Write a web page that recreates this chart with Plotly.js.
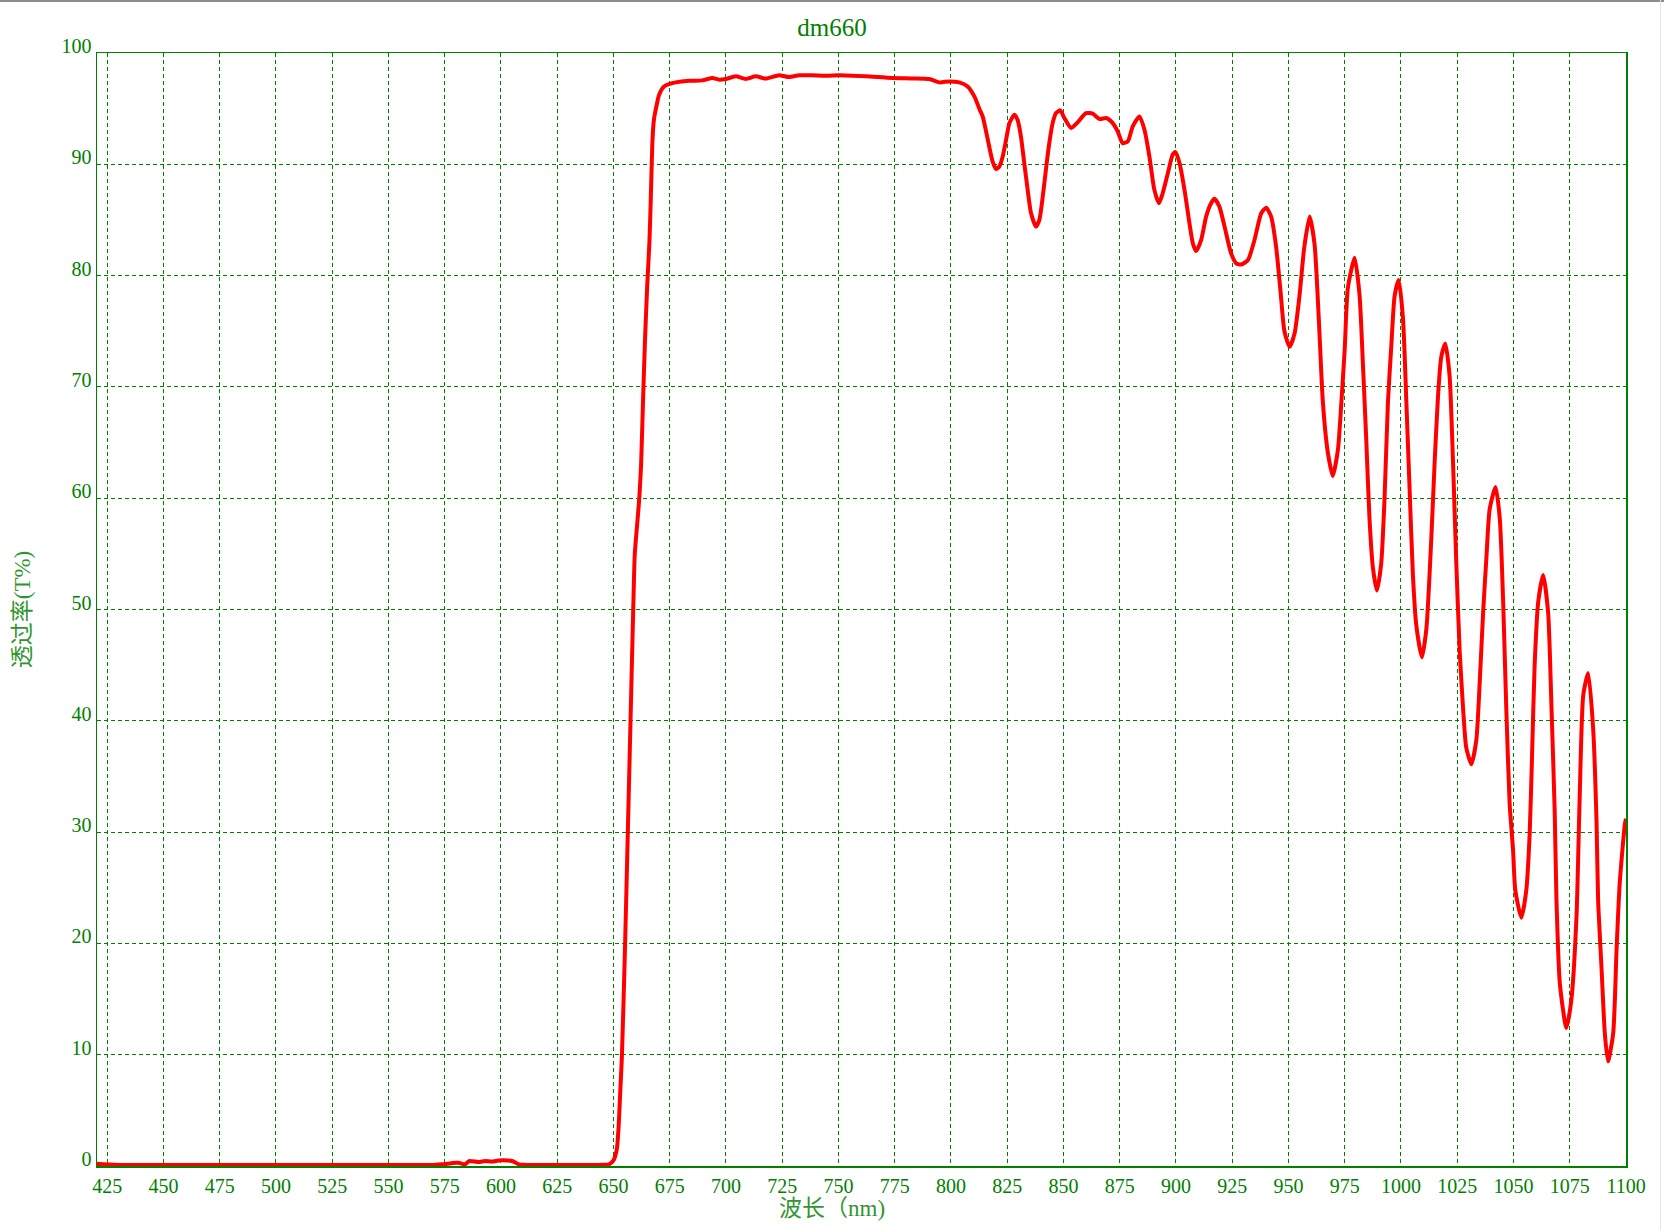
<!DOCTYPE html>
<html>
<head>
<meta charset="utf-8">
<script src="https://cdn.plot.ly/plotly-3.0.1.min.js"></script>
<style>
  html, body { margin: 0; padding: 0; background: #fff; }
  #chart { width: 1664px; height: 1230px; position: relative; }
  #topline { position: absolute; left: 0; top: 0; width: 1664px; height: 2px; background: #8c8c8c; z-index: 10; }
  #rightline { position: absolute; left: 1660px; top: 0; width: 1px; height: 1230px; background: #e4e4e4; z-index: 10; }
</style>
</head>
<body>
<div id="topline"></div>
<div id="rightline"></div>
<div id="chart"></div>
<script>
// Wavelength (nm)
const wavelength = [
  420, 423, 430, 450, 500, 550, 570, 574, 578, 581, 584, 586, 590, 593, 596, 599, 603, 605, 608, 611,
  630, 644, 648, 650, 651.5, 652.3, 653, 653.8, 655.2, 656.4, 657.6, 658.8, 659.5, 660.5, 661.5, 662.3,
  663.2, 664, 665, 666, 666.6, 667.3, 668, 669.1, 670.3, 672.5, 674.7, 677.7, 683.6, 689.5, 694, 697,
  699.9, 704.4, 708.8, 713.3, 717.7, 723.6, 728.1, 732.5, 738.5, 745, 750.3, 762.2, 774.1, 783, 790.4,
  794.8, 799.3, 803.7, 807.4, 810.4, 812.6, 814.1, 815.6, 817, 818.5, 820, 821.5, 823, 824.5, 826,
  828.2, 829.6, 831.1, 832.6, 834.1, 835.6, 837.8, 839.3, 840.8, 842.2, 843.7, 845.2, 846.7, 848.6,
  850.4, 853.4, 856.3, 860, 863, 866, 869, 871.9, 874.1, 876.3, 878.6, 880.8, 883.8, 886, 888.2, 890.4,
  892.4, 894.1, 896.4, 898.6, 899.8, 901.6, 903.8, 906, 907.5, 909, 911.2, 913.4, 915.6, 917.1, 919.3,
  921.6, 924.5, 926.8, 929, 932, 934.9, 937.9, 940.1, 942.3, 944.5, 946.5, 948.2, 950.5, 952.7, 954.9,
  957, 959.4, 961.6, 963.5, 965.3, 967.5, 969.7, 972, 973.5, 975, 976.4, 979.4, 981.6, 983.1, 984.6,
  986, 987.5, 989.3, 991.2, 992.7, 994.2, 995.7, 997.2, 999, 1000.9, 1002.4, 1003.8, 1005.3, 1006.8,
  1009.3, 1011.3, 1013.5, 1015, 1016.5, 1017.9, 1019.7, 1021.6, 1023.1, 1024.6, 1026.1, 1027.6, 1029,
  1031.3, 1033.5, 1035, 1036.5, 1038, 1039.4, 1042, 1043.9, 1045.4, 1046.8, 1048.3, 1049.8, 1050.8,
  1053.5, 1055.7, 1057.2, 1058.2, 1059.4, 1061, 1063.2, 1065.4, 1066.9, 1068.3, 1069.1, 1070.6, 1073.5,
  1075.7, 1078, 1079.4, 1081, 1083.2, 1085.4, 1086.9, 1087.6, 1089.1, 1090.6, 1092, 1094.3, 1095.8,
  1097.2, 1099.5, 1100
];
// Transmittance (T%)
const transmittance = [
  0.2, 0.15, 0.1, 0.1, 0.1, 0.1, 0.1, 0.15, 0.25, 0.3, 0.15, 0.45, 0.35, 0.45, 0.4, 0.5, 0.5, 0.45, 0.15, 0.1,
  0.1, 0.1, 0.15, 0.5, 1.5, 3.5, 6.5, 10, 20, 30, 40, 50, 55, 57.5, 60, 63,
  69, 74, 79, 83, 86.8, 91.9, 94, 95.2, 96.25, 97.0, 97.2, 97.36, 97.5, 97.54, 97.75, 97.6,
  97.66, 97.9, 97.66, 97.9, 97.7, 98.0, 97.84, 98.0, 98.0, 97.95, 98.0, 97.9, 97.75, 97.72, 97.66,
  97.36, 97.45, 97.36, 97.0, 96.1, 95.0, 94.3, 92.96, 91.6, 90.26, 89.57, 89.8, 90.7, 92.2, 93.7,
  94.46, 94.0, 92.5, 90.1, 87.7, 85.6, 84.4, 85.0, 87.1, 89.5, 91.9, 93.7, 94.6, 94.85,
  94.16, 93.26, 93.77, 94.6, 94.55, 94.07, 94.16, 93.7, 92.96, 91.9, 92.06, 93.4, 94.3, 93.1, 90.7, 87.7,
  86.5, 87.4, 89.2, 90.9, 91.1, 90.1, 87.7, 84.7, 82.9, 82.2, 83.2, 85.3, 86.5, 86.9, 86.2,
  84.4, 82.0, 81.1, 81.0, 81.4, 83.2, 85.6, 86.1, 85.3, 82.6, 78.5, 75.0, 73.6, 74.8, 78.2,
  82.5, 85.3, 82.8, 76, 68.6, 64.1, 62.0, 64.4, 68.6, 73.4, 78.9, 81.6, 78.2, 72.0, 65.1,
  58.2, 53.8, 51.7, 54.1, 60.0, 68.6, 73.7, 78.2, 79.6, 76.1, 68.6, 61.0, 53.1, 48.6,
  45.7, 48.3, 56.5, 63.4, 69.3, 72.7, 73.9, 71.0, 63.4, 54.1, 46.2, 41.1, 37.6,
  36.1, 38.3, 43.5, 49.7, 54.8, 59.0, 61.0, 58.2, 50.7, 41.1, 32.5, 28.4, 24.8,
  22.3, 24.8, 29.9, 36.5, 45.0, 50.7, 53.1, 49.7, 41.1, 32.0, 23.9, 16.4, 12.4,
  14.9, 22.4, 33, 42.3, 44.3, 39.3, 31.0, 23.9, 17.9, 11.9, 9.4, 11.9, 19.4,
  25.4, 30.7, 31.2
];
const xTickVals = [425, 450, 475, 500, 525, 550, 575, 600, 625, 650, 675, 700, 725, 750, 775, 800, 825, 850, 875, 900, 925, 950, 975, 1000, 1025, 1050, 1075, 1100];
const yTickVals = [0, 10, 20, 30, 40, 50, 60, 70, 80, 90, 100];
const chartTitle = 'dm660';
const xTitle = '波长（nm)';
const yTitle = '透过率(T%)';

const green = '#008000';
const titleGreen = '#2f962f';
const serif = 'Liberation Serif, Times New Roman, serif';
const titleFont = "Liberation Serif, 'Noto Sans CJK SC', serif";

const trace = {
  x: wavelength,
  y: transmittance,
  type: 'scatter',
  mode: 'lines',
  line: { color: '#ff0000', width: 4, shape: 'spline', smoothing: 0.6 },
  hoverinfo: 'x+y'
};

const axisCommon = {
  showgrid: true,
  gridcolor: green,
  gridwidth: 1,
  griddash: '4px,3px',
  showline: true,
  linecolor: green,
  linewidth: 1.5,
  mirror: true,
  ticks: '',
  zeroline: false,
  automargin: false,
  tickfont: { family: serif, size: 20, color: green }
};

const layout = {
  width: 1664,
  height: 1230,
  margin: { l: 97, r: 38, t: 53, b: 64 },
  paper_bgcolor: '#ffffff',
  plot_bgcolor: '#ffffff',
  showlegend: false,
  title: {
    text: chartTitle,
    font: { family: serif, size: 25, color: green },
    x: 0.5, xref: 'container', xanchor: 'center',
    y: 1 - 27 / 1230, yref: 'container', yanchor: 'middle'
  },
  xaxis: Object.assign({}, axisCommon, {
    range: [420.5, 1100],
    tickmode: 'array',
    tickvals: xTickVals,
    ticktext: xTickVals.map(String),
    ticklabelstandoff: 1
  }),
  yaxis: Object.assign({}, axisCommon, {
    range: [0, 100],
    tickmode: 'array',
    tickvals: yTickVals,
    ticktext: yTickVals.map(String),
    ticklabelshift: -7,
    ticklabelstandoff: 0,
    title: { text: yTitle, font: { family: titleFont, size: 23, color: titleGreen }, standoff: 24 }
  }),
  annotations: [{
    text: xTitle,
    xref: 'paper', yref: 'paper',
    x: (832 - 97) / (1626 - 97), y: -42 / 1113,
    xanchor: 'center', yanchor: 'middle',
    showarrow: false,
    font: { family: titleFont, size: 23, color: titleGreen }
  }]
};

Plotly.newPlot('chart', [trace], layout, { displayModeBar: false, staticPlot: true });
</script>
</body>
</html>
